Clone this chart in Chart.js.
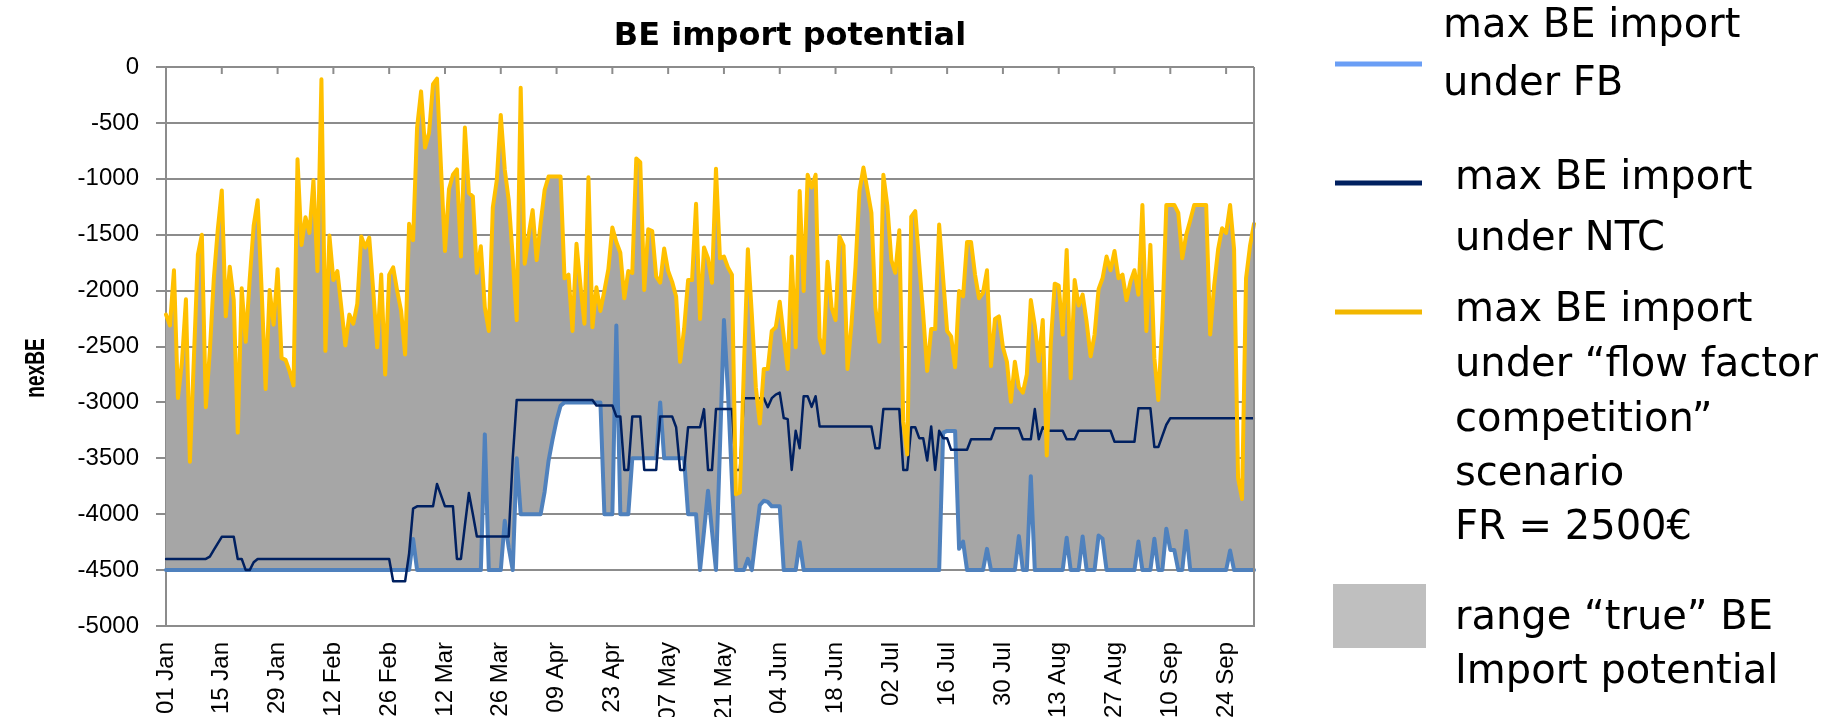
<!DOCTYPE html>
<html>
<head>
<meta charset="utf-8">
<script src="https://cdn.jsdelivr.net/npm/chart.js@4.4.1/dist/chart.umd.min.js"></script>
<style>
html, body { margin: 0; padding: 0; background: #ffffff; overflow: hidden; }
canvas { display: block; }
</style>
</head>
<body>
<canvas id="chart" width="1825" height="717" style="width:1825px;height:717px;"></canvas>
<script>
// ---------------- DATA ----------------
const chartTitle = 'BE import potential';
const yAxisTitle = 'nexBE';

// daily categories, 01 Jan .. 01 Oct (non-leap year)
const monthNames = ['Jan','Feb','Mar','Apr','May','Jun','Jul','Aug','Sep','Oct'];
const monthLengths = [31, 28, 31, 30, 31, 30, 31, 31, 30, 1];
const dayLabels = [];
monthNames.forEach((m, mi) => {
  for (let d = 1; d <= monthLengths[mi]; d++) dayLabels.push((d < 10 ? '0' : '') + d + ' ' + m);
});

const tickLabels = ['01 Jan','15 Jan','29 Jan','12 Feb','26 Feb','12 Mar','26 Mar','09 Apr','23 Apr','07 May',
  '21 May','04 Jun','18 Jun','02 Jul','16 Jul','30 Jul','13 Aug','27 Aug','10 Sep','24 Sep'];
const yTicks = [0, -500, -1000, -1500, -2000, -2500, -3000, -3500, -4000, -4500, -5000];

// max BE import under FB
const fbImport = [
  -4500,-4500,-4500,-4500,-4500,-4500,-4500,-4500,-4500,-4500,
  -4500,-4500,-4500,-4500,-4500,-4500,-4500,-4500,-4500,-4500,
  -4500,-4500,-4500,-4500,-4500,-4500,-4500,-4500,-4500,-4500,
  -4500,-4500,-4500,-4500,-4500,-4500,-4500,-4500,-4500,-4500,
  -4500,-4500,-4500,-4500,-4500,-4500,-4500,-4500,-4500,-4500,
  -4500,-4500,-4500,-4500,-4500,-4500,-4500,-4500,-4500,-4500,
  -4500,-4500,-4221,-4500,-4500,-4500,-4500,-4500,-4500,-4500,
  -4500,-4500,-4500,-4500,-4500,-4500,-4500,-4500,-4500,-4500,
  -3286,-4500,-4500,-4500,-4500,-4059,-4300,-4500,-3500,-4000,
  -4000,-4000,-4000,-4000,-4000,-3800,-3520,-3330,-3160,-3030,
  -3000,-3000,-3000,-3000,-3000,-3000,-3000,-3000,-3000,-3000,
  -4000,-4000,-4000,-2312,-4000,-4000,-4000,-3500,-3500,-3500,
  -3500,-3500,-3500,-3500,-3000,-3500,-3500,-3500,-3500,-3500,
  -3500,-4000,-4000,-4000,-4500,-4150,-3790,-4150,-4500,-3400,
  -2263,-2900,-3700,-4500,-4500,-4500,-4400,-4500,-4200,-3920,
  -3880,-3890,-3930,-3930,-3930,-4500,-4500,-4500,-4500,-4250,
  -4500,-4500,-4500,-4500,-4500,-4500,-4500,-4500,-4500,-4500,
  -4500,-4500,-4500,-4500,-4500,-4500,-4500,-4500,-4500,-4500,
  -4500,-4500,-4500,-4500,-4500,-4500,-4500,-4500,-4500,-4500,
  -4500,-4500,-4500,-4500,-4500,-3270,-3255,-3255,-3255,-4310,
  -4245,-4500,-4500,-4500,-4500,-4500,-4310,-4500,-4500,-4500,
  -4500,-4500,-4500,-4500,-4196,-4500,-4500,-3660,-4500,-4500,
  -4500,-4500,-4500,-4500,-4500,-4500,-4210,-4500,-4500,-4500,
  -4200,-4500,-4500,-4500,-4190,-4220,-4500,-4500,-4500,-4500,
  -4500,-4500,-4500,-4500,-4245,-4500,-4500,-4500,-4220,-4500,
  -4500,-4130,-4320,-4320,-4500,-4500,-4150,-4500,-4500,-4500,
  -4500,-4500,-4500,-4500,-4500,-4500,-4500,-4325,-4500,-4500,
  -4500,-4500,-4500,-4500
];

// max BE import under NTC
const ntcImport = [
  -4400,-4400,-4400,-4400,-4400,-4400,-4400,-4400,-4400,-4400,
  -4400,-4380,-4320,-4260,-4202,-4202,-4202,-4202,-4400,-4400,
  -4500,-4500,-4430,-4400,-4400,-4400,-4400,-4400,-4400,-4400,
  -4400,-4400,-4400,-4400,-4400,-4400,-4400,-4400,-4400,-4400,
  -4400,-4400,-4400,-4400,-4400,-4400,-4400,-4400,-4400,-4400,
  -4400,-4400,-4400,-4400,-4400,-4400,-4400,-4600,-4600,-4600,
  -4600,-4350,-3950,-3930,-3930,-3930,-3930,-3930,-3730,-3830,
  -3930,-3930,-3930,-4400,-4400,-4100,-3810,-4000,-4200,-4200,
  -4200,-4200,-4200,-4200,-4200,-4200,-4200,-3500,-2978,-2978,
  -2978,-2978,-2978,-2978,-2978,-2978,-2978,-2978,-2978,-2978,
  -2978,-2978,-2978,-2978,-2978,-2978,-2978,-2978,-3027,-3027,
  -3027,-3027,-3027,-3125,-3125,-3604,-3604,-3125,-3125,-3125,
  -3604,-3604,-3604,-3604,-3125,-3125,-3125,-3125,-3222,-3604,
  -3604,-3222,-3222,-3222,-3222,-3060,-3604,-3604,-3060,-3060,
  -3060,-3060,-3060,-3604,-3604,-2962,-2962,-2962,-2962,-2962,
  -2962,-3043,-2962,-2930,-2913,-3140,-3150,-3604,-3254,-3410,
  -2945,-2945,-3040,-2945,-3215,-3215,-3215,-3215,-3215,-3215,
  -3215,-3215,-3215,-3215,-3215,-3215,-3215,-3215,-3410,-3410,
  -3060,-3060,-3060,-3060,-3060,-3604,-3604,-3222,-3222,-3320,
  -3320,-3520,-3215,-3604,-3254,-3320,-3320,-3424,-3424,-3424,
  -3424,-3424,-3330,-3330,-3330,-3330,-3330,-3330,-3232,-3232,
  -3232,-3232,-3232,-3232,-3232,-3330,-3330,-3330,-3060,-3330,
  -3222,-3254,-3254,-3254,-3254,-3254,-3330,-3330,-3330,-3254,
  -3254,-3254,-3254,-3254,-3254,-3254,-3254,-3254,-3352,-3352,
  -3352,-3352,-3352,-3352,-3052,-3052,-3052,-3052,-3400,-3400,
  -3300,-3200,-3141,-3141,-3141,-3141,-3141,-3141,-3141,-3141,
  -3141,-3141,-3141,-3141,-3141,-3141,-3141,-3141,-3141,-3141,
  -3141,-3141,-3141,-3141
];

// max BE import under "flow factor competition" scenario, FR = 2500€
const ffcImport = [
  -2215,-2312,-1818,-2961,-2637,-2078,-3530,-2600,-1679,-1500,
  -3043,-2540,-1890,-1450,-1104,-2230,-1786,-2085,-3270,-1980,
  -2458,-1900,-1419,-1192,-2000,-2880,-1994,-2305,-1808,-2604,
  -2620,-2720,-2848,-825,-1591,-1344,-1484,-1013,-1825,-110,
  -2539,-1507,-1906,-1825,-2150,-2490,-2215,-2296,-2117,-1516,
  -1615,-1526,-2000,-2507,-1857,-2750,-1857,-1792,-2000,-2182,
  -2572,-1403,-1549,-542,-218,-721,-591,-153,-104,-900,
  -1646,-1094,-964,-916,-1695,-542,-1127,-1159,-1841,-1604,
  -2150,-2361,-1257,-1013,-429,-916,-1192,-1700,-2263,-185,
  -1760,-1500,-1280,-1727,-1400,-1100,-980,-980,-980,-980,
  -1890,-1857,-2361,-1581,-1955,-2296,-987,-2328,-1971,-2182,
  -2000,-1808,-1435,-1565,-1662,-2068,-1825,-1841,-818,-851,
  -1994,-1452,-1468,-1874,-1929,-1624,-1825,-1922,-2052,-2637,
  -2344,-1906,-1906,-1224,-2253,-1614,-1711,-1929,-909,-1711,
  -1695,-1792,-1857,-3822,-3806,-2700,-1630,-2214,-2864,-3189,
  -2701,-2701,-2361,-2328,-2100,-2409,-2701,-1695,-2507,-1110,
  -2003,-964,-1078,-964,-2425,-2555,-1743,-2150,-2263,-1516,
  -1597,-2701,-2300,-1792,-1110,-899,-1100,-1305,-2150,-2458,
  -964,-1240,-1727,-1841,-1461,-3172,-3465,-1338,-1289,-1760,
  -2215,-2718,-2344,-2344,-1409,-1890,-2361,-2409,-2685,-2003,
  -2052,-1565,-1565,-1857,-2068,-2020,-1818,-2675,-2253,-2231,
  -2507,-2637,-2994,-2637,-2864,-2913,-2750,-2085,-2312,-2630,
  -2263,-3474,-2474,-1938,-1955,-2393,-1636,-2783,-1906,-2133,
  -2036,-2280,-2588,-2393,-1987,-1890,-1695,-1818,-1646,-1890,
  -1857,-2085,-1922,-1818,-2036,-1234,-2361,-1591,-2604,-2978,
  -2280,-1234,-1234,-1234,-1305,-1711,-1500,-1370,-1234,-1234,
  -1234,-1234,-2393,-1955,-1630,-1442,-1484,-1234,-1630,-3676,
  -3864,-1890,-1600,-1403
];

const legendFB = ['max BE import', 'under FB'];
const legendNTC = ['max BE import', 'under NTC'];
const legendFFC = ['max BE import', 'under \u201Cflow factor', 'competition\u201D', 'scenario', 'FR = 2500\u20AC'];
const legendRange = ['range \u201Ctrue\u201D BE', 'Import potential'];

// ---------------- STYLE ----------------
const COLORS = {
  fb: '#4f81bd', ntc: '#002060', ffc: '#ffc000', range: '#a6a6a6',
  fbKey: '#6a9ef5', ntcKey: '#002060', ffcKey: '#f2b700', rangeKey: '#bfbfbf',
  grid: '#8c8c8c', text: '#000000'
};
const tickFont = { family: '"Liberation Sans", Arial, sans-serif', size: 24 };

const decorPlugin = {
  id: 'decor',
  afterDatasetsDraw(chart) {
    const ctx = chart.ctx;
    const ca = chart.chartArea;
    const xs = chart.scales.x;
    ctx.save();
    ctx.strokeStyle = COLORS.grid;
    ctx.lineWidth = 2;
    ctx.beginPath();
    ctx.moveTo(ca.right, ca.top);
    ctx.lineTo(ca.right, ca.bottom);
    ctx.stroke();
    // category-axis tick marks (axis crosses at value 0, i.e. the top edge)
    for (let i = 0; i < dayLabels.length; i += 14) {
      const px = xs.getPixelForValue(i);
      ctx.beginPath();
      ctx.moveTo(px, ca.top);
      ctx.lineTo(px, ca.top + 7);
      ctx.stroke();
    }
    ctx.restore();
  },
  afterDraw(chart) {
    const ctx = chart.ctx;
    ctx.save();
    ctx.fillStyle = COLORS.text;
    ctx.font = 'bold 32px "DejaVu Sans", Verdana, sans-serif';
    ctx.textAlign = 'center';
    ctx.textBaseline = 'middle';
    ctx.fillText(chartTitle, 790, 37);

    // y axis title (condensed bold)
    ctx.save();
    ctx.translate(36, 368);
    ctx.rotate(-Math.PI / 2);
    ctx.scale(0.68, 1);
    ctx.font = 'bold 28px "Liberation Sans", Arial, sans-serif';
    ctx.fillText(yAxisTitle, 0, 0);
    ctx.restore();

    const items = [
      { lines: legendFB, kind: 'line', color: COLORS.fbKey, sy: 64, tx: 1443, ty: [27, 85] },
      { lines: legendNTC, kind: 'line', color: COLORS.ntcKey, sy: 183, tx: 1455, ty: [179, 240] },
      { lines: legendFFC, kind: 'line', color: COLORS.ffcKey, sy: 312, tx: 1455, ty: [311, 366, 421, 475, 529] },
      { lines: legendRange, kind: 'box', color: COLORS.rangeKey, sy: 584, tx: 1455, ty: [619, 673] }
    ];
    ctx.font = '40px "DejaVu Sans", Verdana, sans-serif';
    ctx.textAlign = 'left';
    ctx.textBaseline = 'middle';
    items.forEach(it => {
      if (it.kind === 'line') {
        ctx.strokeStyle = it.color;
        ctx.lineWidth = 5;
        ctx.beginPath();
        ctx.moveTo(1335, it.sy);
        ctx.lineTo(1422, it.sy);
        ctx.stroke();
      } else {
        ctx.fillStyle = it.color;
        ctx.fillRect(1333, it.sy, 93, 64);
        ctx.fillStyle = COLORS.text;
      }
      it.lines.forEach((t, k) => ctx.fillText(t, it.tx, it.ty[k]));
    });
    ctx.restore();
  }
};

const chart = new Chart(document.getElementById('chart'), {
  type: 'line',
  data: {
    labels: dayLabels,
    datasets: [
      { label: legendFB.join(' '), data: fbImport, borderColor: COLORS.fb, borderWidth: 4,
        pointRadius: 0, fill: false, order: 3 },
      { label: legendNTC.join(' '), data: ntcImport, borderColor: COLORS.ntc, borderWidth: 2.5,
        pointRadius: 0, fill: false, order: 2 },
      { label: legendFFC.join(' '), data: ffcImport, borderColor: COLORS.ffc, borderWidth: 4,
        pointRadius: 0, fill: { target: 0 }, backgroundColor: COLORS.range, order: 1 }
    ]
  },
  options: {
    responsive: false,
    animation: false,
    devicePixelRatio: 1,
    layout: { padding: { left: 20, right: 571, top: 67, bottom: 0 } },
    elements: { line: { tension: 0, borderJoinStyle: 'round', borderCapStyle: 'round' } },
    plugins: {
      legend: { display: false },
      tooltip: { enabled: false },
      filler: { drawTime: 'beforeDatasetsDraw' }
    },
    scales: {
      x: {
        type: 'category',
        offset: false,
        grid: { display: false, drawTicks: false },
        border: { display: true, color: COLORS.grid, width: 2 },
        ticks: {
          autoSkip: false, minRotation: 90, maxRotation: 90, padding: 16,
          color: COLORS.text, font: tickFont,
          callback: (v, i) => (i % 14 === 0 ? tickLabels[i / 14] : '')
        },
        afterFit: s => { s.height = 91; }
      },
      y: {
        min: yTicks[yTicks.length - 1],
        max: yTicks[0],
        ticks: { stepSize: 500, padding: 17, color: COLORS.text, font: tickFont,
                 callback: v => String(v) },
        grid: { color: COLORS.grid, lineWidth: 2, tickLength: 10 },
        border: { color: COLORS.grid, width: 2 },
        afterFit: s => { s.width = 146; }
      }
    }
  },
  plugins: [decorPlugin]
});
</script>
</body>
</html>
